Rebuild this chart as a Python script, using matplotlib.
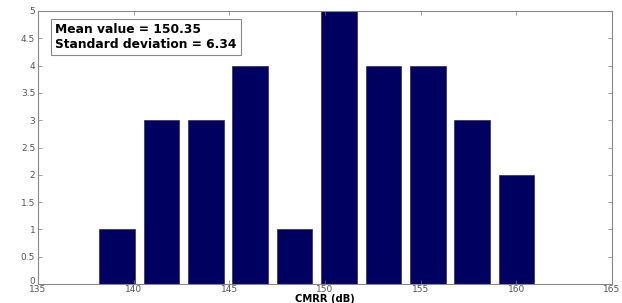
import numpy as np
import matplotlib.pyplot as plt
import matplotlib.transforms as mtransforms

# histogram of CMRR values (10 bins)
bin_centers = [139.13, 141.45, 143.77, 146.09, 148.41, 150.73, 153.05, 155.37, 157.69, 160.01]
counts = [1, 3, 3, 4, 1, 5, 4, 4, 3, 2]
x_ticks = [135, 140, 145, 150, 155, 160, 165]
y_ticks = [0, 0.5, 1, 1.5, 2, 2.5, 3, 3.5, 4, 4.5, 5]
y_ticklabels = ['0', '0.5', '1', '1.5', '2', '2.5', '3', '3.5', '4', '4.5', '5']
stats_text = 'Mean value = 150.35\nStandard deviation = 6.34'

fig = plt.figure(figsize=(6.22, 3.03), dpi=100)
ax = fig.add_axes([38/622, 1 - 284/303, (612-38)/622, (284-11)/303])

width = 0.8 * (bin_centers[1] - bin_centers[0])
ax.bar(bin_centers, counts, width=width, color='#000060', edgecolor='#3a3a6a', linewidth=0.6)

ax.set_xlim(135, 165)
ax.set_ylim(0, 5)
ax.set_xticks(x_ticks)
ax.set_yticks(y_ticks)
ax.set_yticklabels(y_ticklabels)
ax.tick_params(direction='in', top=True, right=True, length=3, width=0.5,
               labelsize=6.5, labelcolor='#555555', color='#777777')
ax.tick_params(axis='x', pad=1)
ax.tick_params(axis='y', pad=2)
for s in ax.spines.values():
    s.set_color('#888888')
    s.set_linewidth(0.8)

# lift the "0" a little so it sits above "135" like in MATLAB
lbl0 = ax.get_yticklabels()[0]
lbl0.set_transform(lbl0.get_transform() + mtransforms.ScaledTranslation(0, 3/100, fig.dpi_scale_trans))

ax.set_xlabel('CMRR (dB)', fontsize=7.2, fontweight='bold', labelpad=0)

ax.text(0.03, 0.955, stats_text, transform=ax.transAxes, va='top', ha='left',
        fontsize=8.8, fontweight='bold', linespacing=1.15,
        bbox=dict(boxstyle='square,pad=0.35', facecolor='white', edgecolor='#888888', linewidth=0.8))

fig.savefig('out.png', dpi=100)
